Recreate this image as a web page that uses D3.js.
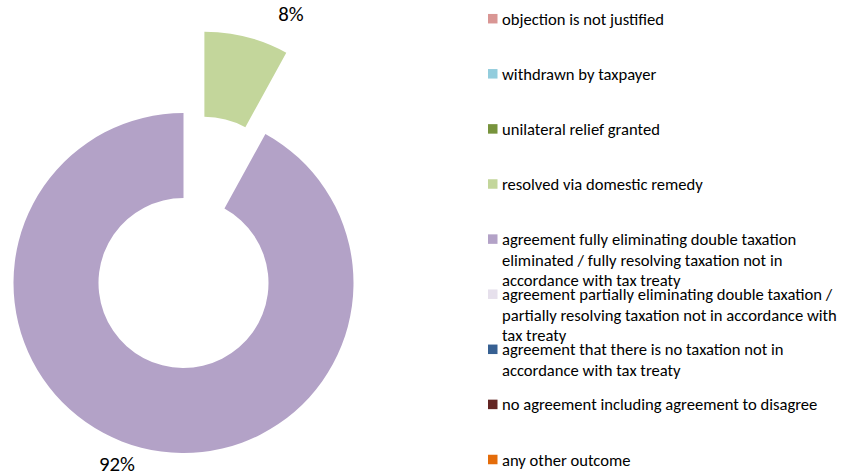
<!DOCTYPE html>
<html>
<head>
<meta charset="utf-8">
<script src="https://cdn.jsdelivr.net/npm/d3@7"></script>
<style>
  html, body { margin: 0; padding: 0; background: #ffffff; }
  svg { display: block; }
  text { font-family: Carlito, Lato, "Open Sans", sans-serif; fill: #000000; }
</style>
</head>
<body>
<svg id="chart" width="843" height="476"></svg>
<script>
// ---- data ----
const categories = [
  "objection is not justified",
  "withdrawn by taxpayer",
  "unilateral relief granted",
  "resolved via domestic remedy",
  "agreement fully eliminating double taxation eliminated / fully resolving taxation not in accordance with tax treaty",
  "agreement partially eliminating double taxation / partially resolving taxation not in accordance with tax treaty",
  "agreement that there is no taxation not in accordance with tax treaty",
  "no agreement including agreement to disagree",
  "any other outcome"
];
const values = [0, 0, 0, 8, 92, 0, 0, 0, 0];
const colors = ["#D99694", "#93CDDD", "#77933C", "#C3D69B", "#B3A2C7", "#E6E0EC", "#376092", "#632523", "#E46C0A"];
// legend text as wrapped in the reference
const legendLines = [
  ["objection is not justified"],
  ["withdrawn by taxpayer"],
  ["unilateral relief granted"],
  ["resolved via domestic remedy"],
  ["agreement fully eliminating double taxation", "eliminated / fully resolving taxation not in", "accordance with tax treaty"],
  ["agreement partially eliminating double taxation /", "partially resolving taxation not in accordance with", "tax treaty"],
  ["agreement that there is no taxation not in", "accordance with tax treaty"],
  ["no agreement including agreement to disagree"],
  ["any other outcome"]
];
const exploded = [false, false, false, true, false, false, false, false, false];

// ---- layout ----
const svg = d3.select("#chart");
const cx = 183.5, cy = 283, outerR = 170, innerR = 85, explodeDist = 84;

const pie = d3.pie().sort(null).value(d => d.value);
const arcs = pie(values.map((v, i) => ({ value: v, i })));
const arc = d3.arc().innerRadius(innerR).outerRadius(outerR);

const g = svg.append("g").attr("transform", `translate(${cx},${cy})`);
const visible = arcs.filter(a => a.data.value > 0);

function offset(a) {
  if (!exploded[a.data.i]) return [0, 0];
  const mid = (a.startAngle + a.endAngle) / 2;
  return [explodeDist * Math.sin(mid), -explodeDist * Math.cos(mid)];
}

g.selectAll("path.slice").data(visible).join("path")
  .attr("class", "slice")
  .attr("d", arc)
  .attr("fill", a => colors[a.data.i])
  .attr("transform", a => { const o = offset(a); return `translate(${o[0]},${o[1]})`; });

// data labels (outside end, Excel-like placement)
const total = d3.sum(values);
const labelPlacement = { 3: { dAngle: 10.3, r: 207 }, 4: { dAngle: 5.8, r: 193 } };
function labelPos(a) {
  const o = offset(a);
  const p = labelPlacement[a.data.i];
  const ang = (a.startAngle + a.endAngle) / 2 + p.dAngle * Math.PI / 180;
  return [o[0] + p.r * Math.sin(ang), o[1] - p.r * Math.cos(ang)];
}
g.selectAll("text.lbl").data(visible).join("text")
  .attr("class", "lbl")
  .attr("text-anchor", "middle")
  .attr("dominant-baseline", "central")
  .style("font-size", "20.8px")
  .attr("x", a => labelPos(a)[0])
  .attr("y", a => labelPos(a)[1])
  .text(a => Math.round(a.data.value / total * 100) + "%");

// ---- legend ----
const legendY = d3.scalePoint().domain(d3.range(categories.length)).range([18.7, 459.5]);
const lg = svg.append("g");
const items = lg.selectAll("g.item").data(categories).join("g")
  .attr("class", "item")
  .attr("transform", (d, i) => `translate(488,${legendY(i)})`);
items.append("rect").attr("x", 0).attr("y", -4.75).attr("width", 9.5).attr("height", 9.5)
  .attr("fill", (d, i) => colors[i]);
items.each(function(d, i) {
  const t = d3.select(this).append("text")
    .attr("x", 14).attr("y", 0)
    .attr("dominant-baseline", "central")
    .style("font-size", "16.6px");
  legendLines[i].forEach((line, k) => {
    t.append("tspan").attr("x", 14).attr("y", k * 20.5).text(line);
  });
});
</script>
</body>
</html>
